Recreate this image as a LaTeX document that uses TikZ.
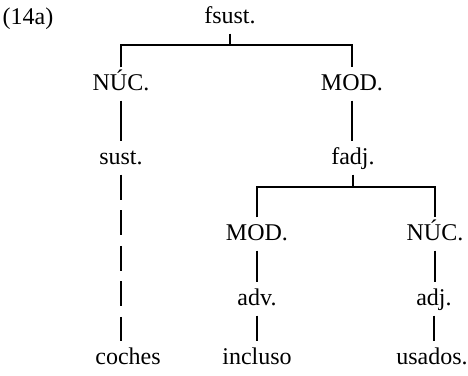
\documentclass[tikz,border=0pt]{standalone}
\usepackage{fontspec}
\setmainfont{Liberation Serif}
\usepackage{tikz}

\begin{document}
\begin{tikzpicture}[x=0.5pt, y=-0.5pt, line width=0.55pt,
    lab/.style={anchor=base, inner xsep=1pt, inner ysep=3pt, text height=8pt, text depth=2pt,
                font=\fontsize{12}{14}\selectfont},
    gap/.style={dash pattern=on 12.5pt off 5.3pt}]
  \useasboundingbox (0,0) rectangle (468,376);
  % example number and root
  \node[lab] (ex) at (28,24) {(14a)};
  \node[lab] (fsust) at (230,23) {fsust.};
  % first level
  \node[lab] (nuc) at (121,90) {NÚC.};
  \node[lab] (mod) at (352,90) {MOD.};
  \coordinate (j1) at (230,45);
  \draw (fsust.south) -- (j1);
  \draw (nuc.north) |- (j1) -| (mod.north);
  % noun branch
  \node[lab] (sust) at (121,164) {sust.};
  \node[lab] (coches) at (128,364) {coches};
  \draw (nuc.south) -- (sust.north);
  \draw[gap] (sust.south) -- (sust.south |- coches.north);
  % adjective phrase
  \node[lab] (fadj) at (353,164) {fadj.};
  \draw (mod.south) -- (mod.south |- fadj.north);
  \node[lab] (mod2) at (257,240) {MOD.};
  \node[lab] (nuc2) at (435,240) {NÚC.};
  \coordinate (j2) at (353,187);
  \draw (fadj.south) -- (j2);
  \draw (mod2.north) |- (j2) -| (nuc2.north);
  % leaves
  \node[lab] (adv) at (257,305) {adv.};
  \node[lab] (adj) at (434,305) {adj.};
  \node[lab] (incluso) at (257,364) {incluso};
  \node[lab] (usados) at (432,364) {usados.};
  \draw (mod2.south) -- (adv.north);
  \draw (nuc2.south) -- (nuc2.south |- adj.north);
  \draw (adv.south) -- (adv.south |- incluso.north);
  \draw (adj.south) -- (adj.south |- usados.north);
\end{tikzpicture}
\end{document}
